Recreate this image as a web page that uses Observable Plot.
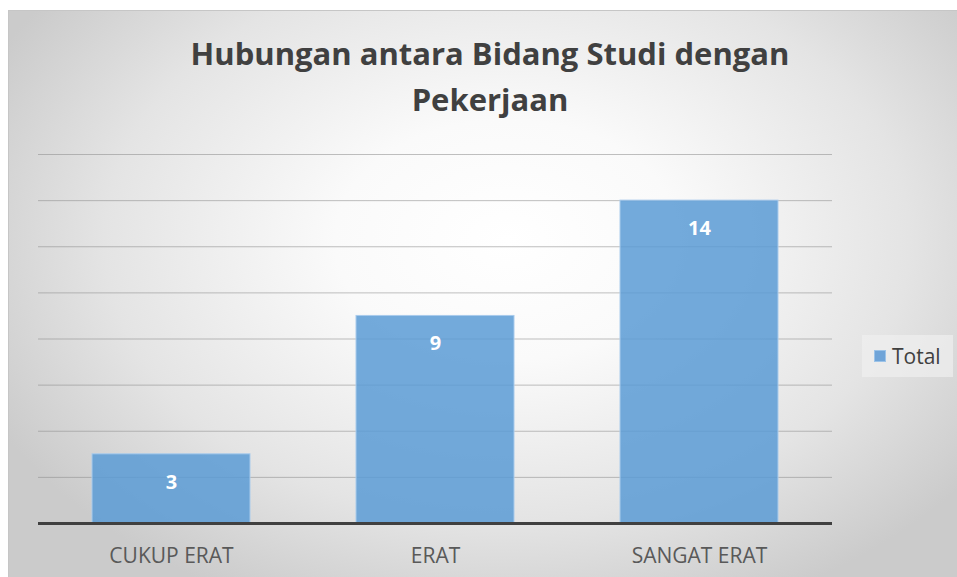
<!DOCTYPE html>
<html>
<head>
<meta charset="utf-8">
<script src="https://cdn.jsdelivr.net/npm/d3@7"></script>
<script src="https://cdn.jsdelivr.net/npm/@observablehq/plot@0.6"></script>
<style>
  html, body { margin: 0; padding: 0; background: #ffffff; }
  #wrap { position: relative; width: 957px; height: 577px; overflow: hidden; font-family: "Open Sans", "Noto Sans", sans-serif; }
  #bg { position: absolute; left: 8px; top: 10px; width: 960px; height: 575px; box-sizing: border-box;
        border: 1px solid #c6c6c6;
        background: radial-gradient(ellipse 60% 70% at 52% 40%, #ffffff 0%, #fafafa 30%, #e4e4e4 70%, #cbcbcb 100%); }
  #title { position: absolute; left: 0; width: 980px; top: 30px; text-align: center; font-weight: 700; font-size: 31px;
           line-height: 46px; color: #404040; letter-spacing: 0px; }
  #chart { position: absolute; left: 0; top: 140px; }
  #legend { position: absolute; left: 862px; top: 335px; width: 91px; height: 42px; background: rgba(240,240,240,0.7);
            display: flex; align-items: center; font-size: 21px; color: #404040; }
  #legend .sw { width: 12px; height: 12px; background: #6fa4d8; border: 1px solid #9cc3e8; margin: 0 6px 0 12px; box-sizing: border-box; }
</style>
</head>
<body>
<div id="wrap">
  <div id="bg"></div>
  <div id="title">Hubungan antara Bidang Studi dengan<br>Pekerjaan</div>
  <div id="chart"></div>
  <div id="legend"><span class="sw"></span><span>Total</span></div>
</div>
<script>
const categories = ["CUKUP ERAT", "ERAT", "SANGAT ERAT"];
const totals = [3, 9, 14];
const yTicks = [0, 2, 4, 6, 8, 10, 12, 14, 16];

const data = categories.map((c, i) => ({category: c, total: totals[i]}));

const plot = Plot.plot({
  width: 860,
  height: 430,
  marginLeft: 38,
  marginRight: 28,
  marginTop: 14,
  marginBottom: 47,
  style: {background: "transparent", fontFamily: "Open Sans, Noto Sans, sans-serif"},
  x: {domain: categories, paddingInner: 0.4, paddingOuter: 0.2, label: null},
  y: {domain: [0, 16], axis: null},
  marks: [
    Plot.ruleY(yTicks.filter(d => d > 0), {stroke: "#8c8c8c", strokeOpacity: 0.55, strokeWidth: 1}),
    Plot.barY(data, {x: "category", y: "total", fill: "#5b9bd5", fillOpacity: 0.85, stroke: "#a9cbec", strokeWidth: 1}),
    Plot.ruleY([0], {stroke: "#404040", strokeWidth: 3}),
    Plot.text(data, {x: "category", y: "total", text: d => String(d.total), dy: 28, fill: "#ffffff", fontWeight: "bold", fontSize: 20}),
    Plot.axisX({tickSize: 0, tickPadding: 25, fontSize: 21, color: "#595959", label: null})
  ]
});
plot.querySelectorAll("g[aria-label='x-axis tick label'] text").forEach(t => t.setAttribute("fill", "#595959"));
document.getElementById("chart").appendChild(plot);
</script>
</body>
</html>
